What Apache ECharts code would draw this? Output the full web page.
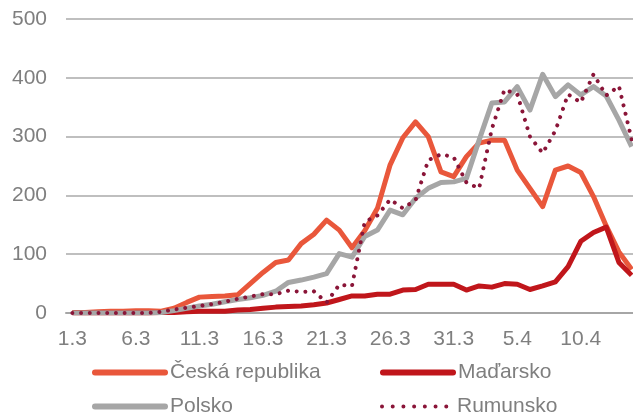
<!DOCTYPE html>
<html>
<head>
<meta charset="utf-8">
<script src="https://cdn.jsdelivr.net/npm/echarts@6/dist/echarts.min.js"></script>
<style>
  html, body { margin: 0; padding: 0; background: #fff; }
  #chart { width: 633px; height: 416px; }
</style>
</head>
<body>
<div id="chart"></div>
<script>
// dny 1.3. – 14.4.
var days = ['1.3','2.3','3.3','4.3','5.3','6.3','7.3','8.3','9.3','10.3',
  '11.3','12.3','13.3','14.3','15.3','16.3','17.3','18.3','19.3','20.3',
  '21.3','22.3','23.3','24.3','25.3','26.3','27.3','28.3','29.3','30.3',
  '31.3','1.4','2.4','3.4','4.4','5.4','6.4','7.4','8.4','9.4',
  '10.4','11.4','12.4','13.4','14.4'];

var cesko = [1,1,2,3,3,4,4,3,8,18,
  27,28,29,31,50,69,86,90,118,134,
  158,141,111,140,178,252,298,325,300,240,
  232,266,289,294,294,243,212,181,243,250,
  239,198,148,104,74];
var madarsko = [0,0,0,0,0,0,0,1,1,2,
  3,3,3,5,6,8,10,11,12,14,
  17,23,29,29,32,32,39,40,49,49,
  49,39,46,44,50,49,40,46,53,79,
  122,137,146,86,64];
var polsko = [0,0,0,0,0,0,0,1,4,8,
  12,15,19,23,26,30,37,52,56,61,
  67,101,95,130,141,175,167,195,212,222,
  223,229,294,357,359,385,345,406,368,388,
  371,385,369,328,283];
var rumunsko = [0,0,0,0,0,0,0,2,6,9,
  12,15,19,24,28,32,32,38,36,37,
  18,48,46,155,166,193,178,192,260,270,
  265,222,212,313,380,372,300,272,310,372,
  358,406,370,386,295];

var yTicks = [0, 100, 200, 300, 400, 500];

var font = '"Liberation Sans", Arial, sans-serif';
var grey = '#7f7f7f';
var dots = [0.01, 8.7];

var myChart = echarts.init(document.getElementById('chart'));

function line(name, data, color, extra) {
  var s = {
    name: name,
    type: 'line',
    data: data,
    symbol: 'none',
    smooth: false,
    lineStyle: { color: color, width: 5, join: 'round' },
    itemStyle: { color: color }
  };
  if (extra) Object.assign(s.lineStyle, extra);
  return s;
}

var legendText = { color: grey, fontSize: 21, fontFamily: font, lineHeight: 20 };
var solidIcon = { width: 6, cap: 'round', type: 'solid' };
var dotIcon = { width: 4, cap: 'round', type: [0.01, 10.7] };

// jedna polozka legendy = jedna komponenta, at sedi sloupce
function legendItem(left, top, name) {
  return {
    left: left, top: top, padding: 0,
    itemWidth: 70, itemHeight: 14,
    itemStyle: { opacity: 0 },
    textStyle: legendText,
    data: [{ name: name, lineStyle: name === 'Rumunsko' ? dotIcon : solidIcon }]
  };
}

myChart.setOption({
  animation: false,
  grid: { left: 66, top: 19, width: 572, height: 294, outerBoundsMode: 'none' },
  legend: [
    legendItem(92, 362, 'Česká republika'),
    legendItem(380, 362, 'Maďarsko'),
    legendItem(92, 396, 'Polsko'),
    legendItem(380, 396, 'Rumunsko')
  ],
  xAxis: {
    type: 'category',
    data: days,
    boundaryGap: true,
    axisLine: { lineStyle: { color: '#a6a6a6', width: 2 } },
    axisTick: { interval: 4, length: 6, lineStyle: { color: '#a6a6a6', width: 1.5 } },
    axisLabel: { interval: 4, margin: 16, color: grey, fontSize: 21, fontFamily: font }
  },
  yAxis: {
    type: 'value',
    min: yTicks[0],
    max: yTicks[yTicks.length - 1],
    interval: 100,
    axisLine: { show: false },
    axisTick: { show: false },
    axisLabel: { margin: 19, color: grey, fontSize: 21, fontFamily: font },
    splitLine: { lineStyle: { color: '#bfbfbf', width: 2 } }
  },
  series: [
    line('Česká republika', cesko, '#e9573b'),
    line('Maďarsko', madarsko, '#c0161b'),
    line('Polsko', polsko, '#a6a6a6'),
    line('Rumunsko', rumunsko, '#8a1538', { width: 4, type: dots, cap: 'round' })
  ]
});
</script>
</body>
</html>
